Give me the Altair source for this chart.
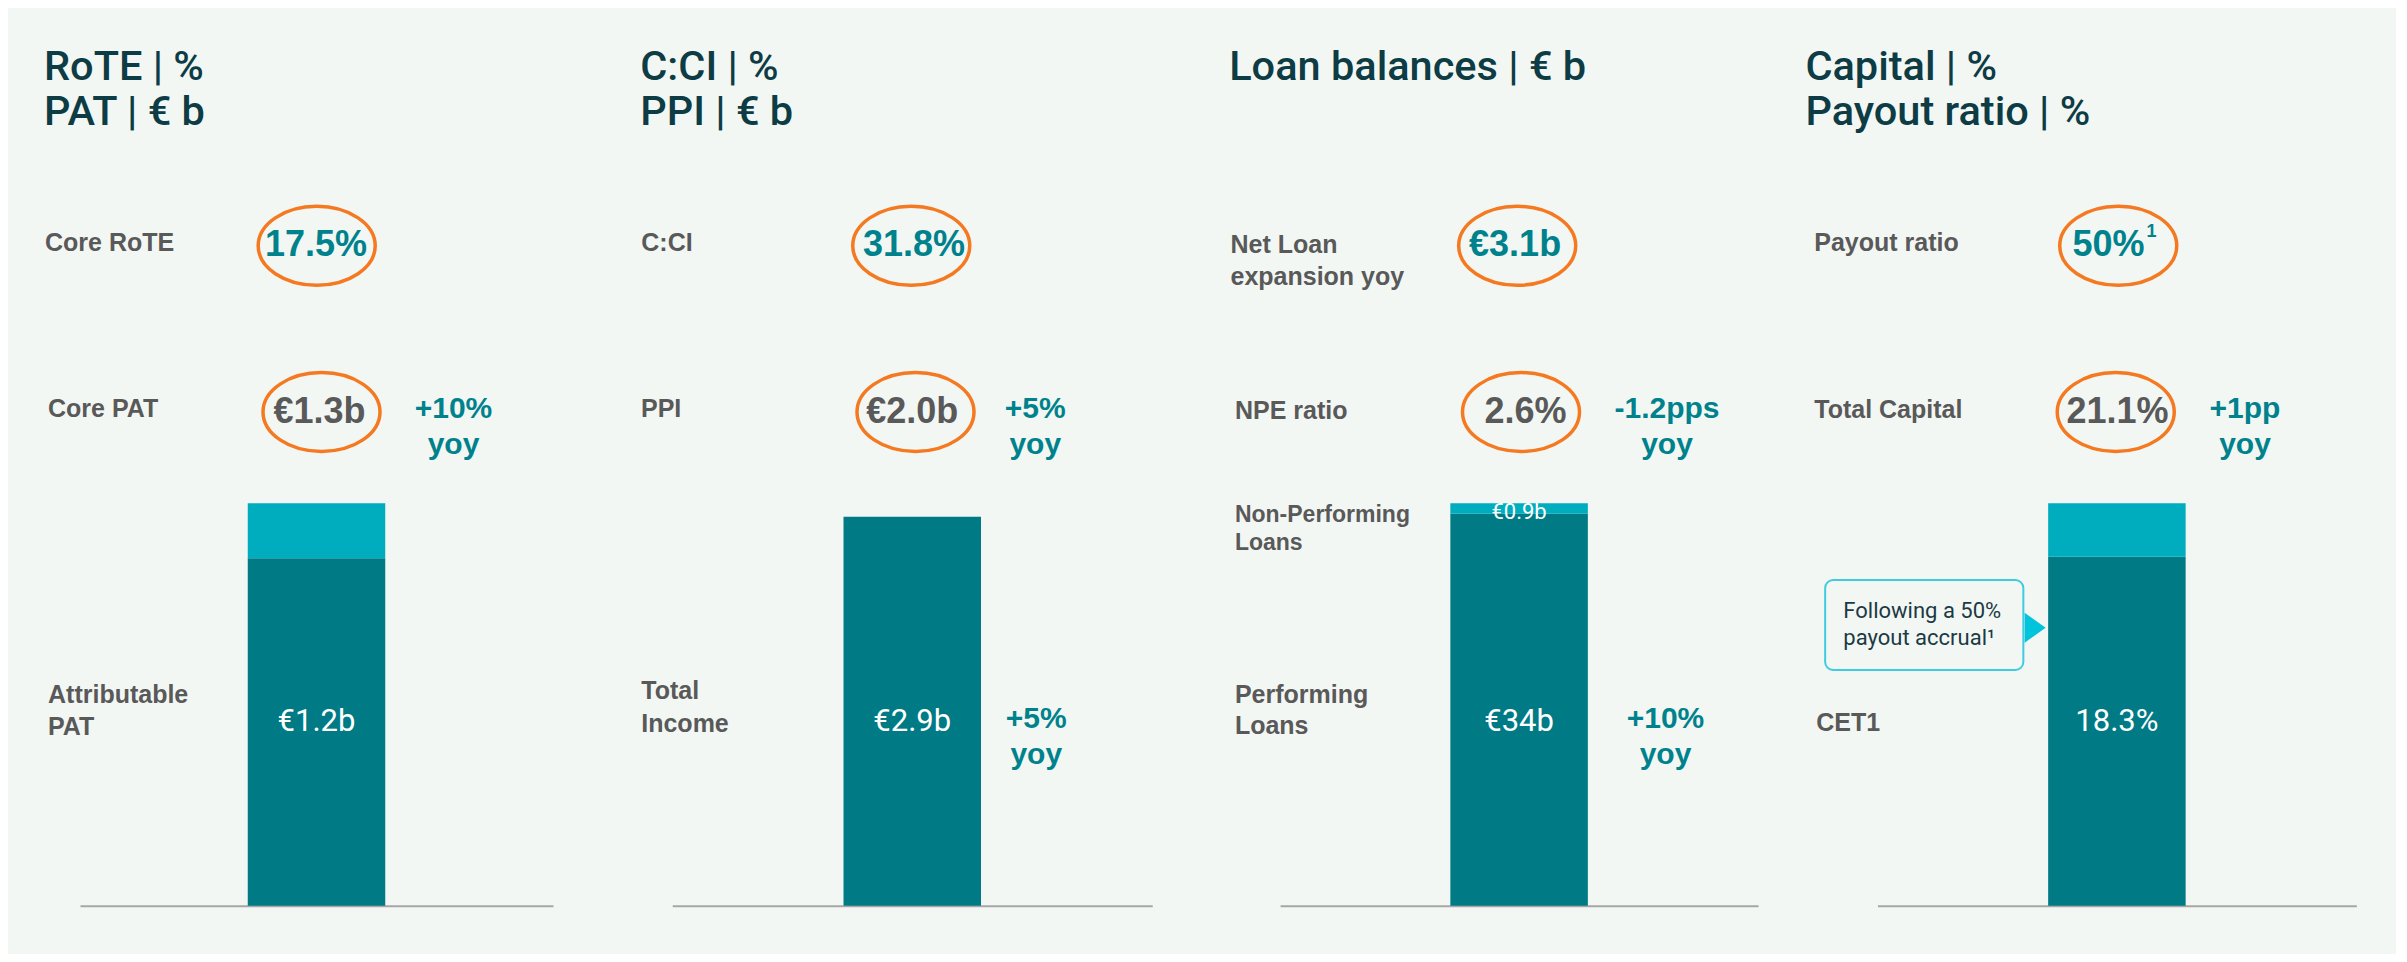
import altair as alt
import pandas as pd

# ---------------- data ----------------
titles = ["RoTE | %\nPAT | € b", "C:CI | %\nPPI | € b", "Loan balances | € b", "Capital | %\nPayout ratio | %"]
kpi1_labels = ["Core RoTE", "C:CI", "Net Loan\nexpansion yoy", "Payout ratio"]
kpi1_values = ["17.5%", "31.8%", "€3.1b", "50%"]
kpi2_labels = ["Core PAT", "PPI", "NPE ratio", "Total Capital"]
kpi2_values = ["€1.3b", "€2.0b", "2.6%", "21.1%"]
kpi2_yoy = ["+10%\nyoy", "+5%\nyoy", "-1.2pps\nyoy", "+1pp\nyoy"]
bar_names = ["PAT", "Income", "Loans", "Capital"]
lower_names = ["Attributable\nPAT", "Total\nIncome", "Performing\nLoans", "CET1"]
lower_values = [1.2, 2.9, 34.0, 18.3]
lower_text = ["€1.2b", "€2.9b", "€34b", "18.3%"]
upper_names = ["Core PAT", "", "Non-Performing\nLoans", "Total Capital"]
upper_values = [0.19, 0.0, 0.9, 2.8]
upper_text = ["", "", "€0.9b", ""]
bar_yoy = ["", "+5%\nyoy", "+10%\nyoy", ""]
scale_max = [1.39, 3.0, 34.9, 21.1]
callout_text = "Following a 50%\npayout accrual¹"
footnote_mark = "1"

# ---------------- styles / layout ----------------
BG = "#F3F7F4"
DARK = "#007A85"
LIGHT = "#00ADBE"
TEAL = "#00828D"
GRAY = "#595959"
TITLEC = "#0D3C45"
ORANGE = "#F47920"
AXISC = "#A6A6A6"
CYAN = "#3FCCE0"
CYAN2 = "#00C4DC"
TFONT = "Roboto"
LFONT = "Liberation Sans"

PW = 2387 / 4
PH = 946
BASE_Y = 897.7
TOP_Y = 495.3
BAR_W = 137.5

title_x = [36, 35.25, 27.2, 6.4]
k1_label_x = [37, 36.25, 28.5, 15.25]
k1_label_y = [242.7, 242.7, 245.3, 242.7]
k1_ell_x = [308.7, 306.25, 315.2, 319.25]
k1_val_x = [308, 309, 313.1, 309.5]
k2_label_x = [40, 36, 32.9, 15.25]
k2_label_y = [408.7, 409, 411.3, 410.3]
k2_ell_x = [313.5, 310.5, 319, 316.75]
k2_val_x = [311.5, 307.25, 323.5, 318.5]
yoy2_x = [445.5, 430.25, 465, 446]
low_label_x = [40, 36.25, 32.9, 17.25]
low_label_y = [694.7, 691.3, 694.7, 722.7]
low_label_lh = [32, 32.4, 31.3, 32]
bar_yoy_x = [0, 431.25, 463.5, 0]
axis_range = [(72, 545), (67.25, 547.25), (78.1, 556.1), (78.45, 557.35)]

ELLIPSE = "M -1 0 A 1 0.675 0 1 1 1 0 A 1 0.675 0 1 1 -1 0 Z"
TRIANGLE = "M -0.7 -1 L 0.7 0 L -0.7 1 Z"


def text(s, x, y, size, color, weight="normal", align="left", font=LFONT, lh=None):
    kw = dict(align=align, baseline="alphabetic", fontSize=size, color=color,
              fontWeight=weight, font=font)
    if "\n" in s:
        kw["lineBreak"] = "\n"
        kw["lineHeight"] = lh if lh else size * 1.25
    return alt.Chart(pd.DataFrame({"t": [s]})).mark_text(**kw).encode(
        text="t:N", x=alt.value(x), y=alt.value(y))


def ellipse(label, x, y, w=117):
    return alt.Chart(pd.DataFrame({"t": [label]})).mark_point(
        shape=ELLIPSE, size=w * w, filled=False, stroke=ORANGE, strokeWidth=3.5,
        opacity=1).encode(x=alt.value(x), y=alt.value(y))


def panel(i):
    name = bar_names[i]
    segs = pd.DataFrame({
        "bar": [name, name],
        "seg": ["lower", "upper"],
        "value": [lower_values[i], upper_values[i]],
        "ord": [0, 1],
    })
    r0, r1 = axis_range[i]
    bwr = BAR_W / (r1 - r0)
    p_in = (1 - 3 * bwr) / (1 - bwr)
    xscale = alt.Scale(domain=[name], range=[r0, r1], paddingInner=p_in, paddingOuter=1)
    xenc = alt.X("bar:N", scale=xscale,
                 axis=alt.Axis(labels=False, ticks=False, title=None, grid=False,
                               domain=True, domainColor=AXISC, domainWidth=2,
                               offset=-(PH - BASE_Y)))
    bars = alt.Chart(segs).mark_bar().encode(
        x=xenc,
        y=alt.Y("value:Q", stack="zero",
                scale=alt.Scale(domain=[0, scale_max[i]], range=[BASE_Y, TOP_Y]),
                axis=None),
        color=alt.Color("seg:N", scale=alt.Scale(domain=["lower", "upper"], range=[DARK, LIGHT]),
                        legend=None),
        order=alt.Order("ord:Q"),
    )
    layers = [bars]
    # in-bar value
    layers.append(alt.Chart(pd.DataFrame({"bar": [name], "t": [lower_text[i]]})).mark_text(
        align="center", baseline="alphabetic", fontSize=31, font=TFONT, color="white").encode(
        x=alt.X("bar:N", scale=xscale), y=alt.value(722.5), text="t:N"))
    if upper_text[i]:
        layers.append(alt.Chart(pd.DataFrame({"bar": [name], "t": [upper_text[i]]})).mark_text(
            align="center", baseline="alphabetic", fontSize=22, font=TFONT, color="white").encode(
            x=alt.X("bar:N", scale=xscale), y=alt.value(511.3), text="t:N"))
    # title
    layers.append(text(titles[i], title_x[i], 72, 41.5, TITLEC, weight=500, font=TFONT, lh=45))
    # KPI row 1
    layers.append(text(kpi1_labels[i], k1_label_x[i], k1_label_y[i], 25, GRAY, "bold", lh=32))
    layers.append(ellipse(kpi1_values[i], k1_ell_x[i], 237.8))
    layers.append(text(kpi1_values[i], k1_val_x[i], 247.5, 36, TEAL, "bold", "center"))
    # KPI row 2
    layers.append(text(kpi2_labels[i], k2_label_x[i], k2_label_y[i], 25, GRAY, "bold"))
    layers.append(ellipse(kpi2_values[i], k2_ell_x[i], 404))
    layers.append(text(kpi2_values[i], k2_val_x[i], 414.5, 36, GRAY, "bold", "center"))
    layers.append(text(kpi2_yoy[i], yoy2_x[i], 410, 30, TEAL, "bold", "center", lh=36))
    # bar side labels
    layers.append(text(lower_names[i], low_label_x[i], low_label_y[i], 25, GRAY, "bold",
                       lh=low_label_lh[i]))
    if i == 2:
        layers.append(text(upper_names[i], low_label_x[i], 513.7, 23, GRAY, "bold", lh=28.5))
    if bar_yoy[i]:
        layers.append(text(bar_yoy[i], bar_yoy_x[i], 720.3, 30, TEAL, "bold", "center", lh=36))
    if i == 3:
        layers.append(text(footnote_mark, 352.5, 228.7, 18, TEAL, "bold", "center"))
        box = alt.Chart(pd.DataFrame({"t": [callout_text]})).mark_rect(
            cornerRadius=8, fill=BG, stroke=CYAN, strokeWidth=2).encode(
            x=alt.value(26.15), x2=alt.value(224.35), y=alt.value(572), y2=alt.value(662))
        layers.append(box)
        layers.append(alt.Chart(pd.DataFrame({"t": [callout_text]})).mark_point(
            shape=TRIANGLE, size=900, filled=True, color=CYAN2, opacity=1, strokeWidth=0).encode(
            x=alt.value(236.15), y=alt.value(619.7)))
        layers.append(text(callout_text, 44.35, 610.3, 22, "#1B3A44", font=TFONT, lh=26.7))
    return alt.layer(*layers).properties(width=PW, height=PH)


chart = alt.hconcat(*[panel(i) for i in range(4)], spacing=0, bounds="flush").properties(
    padding=0, background=BG
).configure_view(stroke=None)

chart.save("out.html", embed_options={"renderer": "svg", "actions": False})
